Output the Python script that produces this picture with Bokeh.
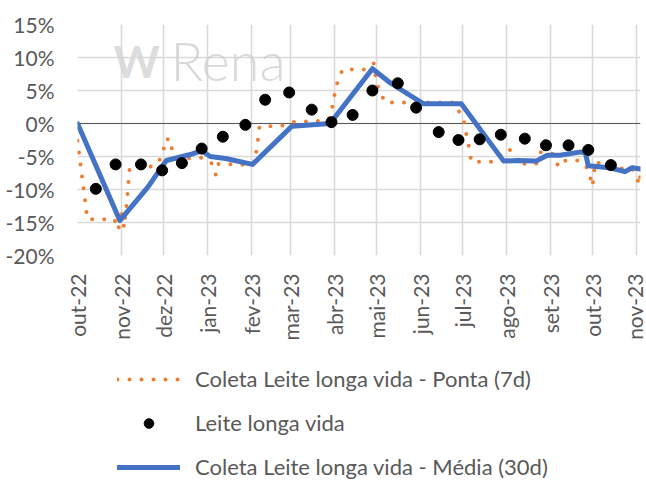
import numpy as np
import pandas as pd
from bokeh.plotting import figure
from bokeh.layouts import column
from bokeh.models import (FixedTicker, NumeralTickFormatter, Legend, LegendItem,
                          Span, Label, Range1d)
from bokeh.embed import file_html
from bokeh.resources import INLINE

# ---------------- data ----------------
month_ticks = ["2022-10-01", "2022-11-01", "2022-12-01", "2023-01-01", "2023-02-01",
               "2023-03-01", "2023-04-01", "2023-05-01", "2023-06-01", "2023-07-01",
               "2023-08-01", "2023-09-01", "2023-10-01", "2023-11-01"]
month_labels = ["out-22", "nov-22", "dez-22", "jan-23", "fev-23", "mar-23", "abr-23",
                "mai-23", "jun-23", "jul-23", "ago-23", "set-23", "out-23", "nov-23"]
y_ticks = [-0.20, -0.15, -0.10, -0.05, 0.0, 0.05, 0.10, 0.15]
x_start = "2022-10-01"
x_end = "2023-11-04"

# Coleta Leite longa vida - Ponta (7d), in %
ponta_dates = ["2022-10-01", "2022-10-08", "2022-10-27", "2022-10-30", "2022-11-01",
               "2022-11-03", "2022-11-05", "2022-11-07", "2022-11-24", "2022-11-28",
               "2022-12-01", "2022-12-02", "2022-12-06", "2022-12-07", "2022-12-10",
               "2022-12-28", "2023-01-03", "2023-01-05", "2023-01-07", "2023-01-09",
               "2023-02-02", "2023-02-05", "2023-02-07", "2023-02-23", "2023-03-04",
               "2023-03-20", "2023-03-28", "2023-03-30", "2023-04-02", "2023-04-04",
               "2023-04-07", "2023-04-24", "2023-04-29", "2023-05-01", "2023-05-04",
               "2023-05-07", "2023-06-24", "2023-07-01", "2023-07-03", "2023-07-04",
               "2023-07-06", "2023-07-07", "2023-07-24", "2023-08-03", "2023-08-05",
               "2023-08-06", "2023-08-13", "2023-08-22", "2023-08-30", "2023-08-31",
               "2023-09-02", "2023-09-07", "2023-09-12", "2023-09-21", "2023-09-26",
               "2023-09-29", "2023-10-01", "2023-10-02", "2023-10-03", "2023-10-11",
               "2023-10-21", "2023-10-29", "2023-11-01", "2023-11-03", "2023-11-04"]
ponta_values = [-2.6, -14.5, -14.5, -16.1, -12.9,
                -15.8, -11.9, -6.6, -6.5, -5.6,
                -4.1, -2.4, -2.4, -4.1, -5.3,
                -5.2, -5.8, -6.3, -7.8, -6.1,
                -6.3, -4.0, -0.5, -0.3, 0.25,
                0.35, 0.65, 1.9, 5.3, 6.8,
                8.2, 8.2, 9.1, 6.1, 4.5,
                3.2, 3.2, 1.0, -0.6, -2.4,
                -4.0, -5.8, -5.8, -3.9, -4.3,
                -5.8, -6.1, -6.1, -1.9, -3.0,
                -4.4, -6.6, -5.6, -5.6, -6.3,
                -7.8, -9.5, -7.5, -5.8, -6.5,
                -6.8, -6.8, -7.8, -9.3, -7.7]

# Leite longa vida, in %
leite_dates = ["2022-10-14", "2022-10-28", "2022-11-15", "2022-11-30", "2022-12-14",
               "2022-12-28", "2023-01-12", "2023-01-28", "2023-02-11", "2023-02-28",
               "2023-03-16", "2023-03-30", "2023-04-14", "2023-04-28", "2023-05-16",
               "2023-05-29", "2023-06-14", "2023-06-28", "2023-07-13", "2023-07-28",
               "2023-08-14", "2023-08-29", "2023-09-14", "2023-09-28", "2023-10-14"]
leite_values = [-9.9, -6.2, -6.2, -7.1, -6.0,
                -3.8, -2.0, -0.2, 3.6, 4.7,
                2.1, 0.2, 1.3, 5.0, 6.1,
                2.4, -1.3, -2.5, -2.4, -1.7,
                -2.3, -3.3, -3.3, -4.0, -6.3]

# Coleta Leite longa vida - Média (30d), in %
media_dates = ["2022-10-01", "2022-10-31", "2022-11-20", "2022-11-30", "2022-12-03",
               "2022-12-20", "2022-12-28", "2023-01-03", "2023-01-14", "2023-02-02",
               "2023-03-02", "2023-03-29", "2023-04-28", "2023-05-11", "2023-06-03",
               "2023-06-30", "2023-07-30", "2023-08-09", "2023-08-22", "2023-08-30",
               "2023-09-08", "2023-09-23", "2023-09-26", "2023-09-28", "2023-10-13",
               "2023-10-24", "2023-10-29", "2023-11-04"]
media_values = [0.0, -14.7, -9.6, -6.5, -5.6,
                -4.7, -4.1, -5.0, -5.3, -6.2,
                -0.4, 0.0, 8.3, 6.1, 3.0,
                3.0, -5.7, -5.6, -5.7, -4.8,
                -4.8, -4.3, -4.5, -6.4, -6.7,
                -7.3, -6.7, -6.9]

series_names = ["Coleta Leite longa vida - Ponta (7d)", "Leite longa vida",
                "Coleta Leite longa vida - Média (30d)"]


def to_ms(dates):
    return [int(pd.Timestamp(d).timestamp() * 1000) for d in dates]


def to_frac(vals):
    return (np.array(vals) / 100.0).tolist()


TEXT = "#595959"
FONT = "Lato"
FS = "21px"
ORANGE = "#ED7D31"
BLUE = "#4472C4"

tick_ms = to_ms(month_ticks)
x_lo, x_hi = to_ms([x_start])[0], to_ms([x_end])[0]


def add_series(fig):
    r_p = fig.line(to_ms(ponta_dates), to_frac(ponta_values), line_color=ORANGE,
                   line_width=4, line_dash="0 12", line_cap="round", line_join="round")
    r_m = fig.line(to_ms(media_dates), to_frac(media_values), line_color=BLUE,
                   line_width=5, line_join="round", line_cap="round")
    r_l = fig.scatter(to_ms(leite_dates), to_frac(leite_values), size=11,
                      fill_color="black", line_color="black")
    return r_p, r_l, r_m


# ---------------- main chart ----------------
p = figure(width=646, height=343, x_axis_type="datetime",
           output_backend="svg", toolbar_location=None,
           x_range=Range1d(x_lo, x_hi), y_range=Range1d(-0.20, 0.15),
           min_border_left=77, min_border_right=6,
           min_border_top=24, min_border_bottom=88)
p.outline_line_color = None
p.background_fill_color = "white"
p.border_fill_color = "white"

p.xaxis.ticker = FixedTicker(ticks=tick_ms)
p.xaxis.major_label_overrides = {t: l for t, l in zip(tick_ms, month_labels)}
p.xaxis.major_label_orientation = np.pi / 2
p.yaxis.ticker = FixedTicker(ticks=y_ticks)
p.yaxis.formatter = NumeralTickFormatter(format="0%")
for ax in (p.xaxis[0], p.yaxis[0]):
    ax.axis_line_color = None
    ax.major_tick_line_color = None
    ax.minor_tick_line_color = None
    ax.major_label_text_font = FONT
    ax.major_label_text_font_size = FS
    ax.major_label_text_color = TEXT
p.xaxis.major_label_standoff = 12
p.yaxis.major_label_standoff = 17

p.xgrid.ticker = FixedTicker(ticks=tick_ms)
p.ygrid.ticker = FixedTicker(ticks=y_ticks)
for g in (p.xgrid[0], p.ygrid[0]):
    g.grid_line_color = "#d9d9d9"
    g.grid_line_width = 1.6

# watermark
p.add_layout(Label(x=36, y=195, x_units="screen", y_units="screen", text="W",
                   text_font=FONT, text_font_style="bold", text_font_size="44px",
                   text_color="#d6d6d6", text_alpha=0.85, text_baseline="alphabetic"))
p.add_layout(Label(x=93, y=195, x_units="screen", y_units="screen", text="Rena",
                   text_font="'Lato Light', Lato", text_font_size="54px",
                   text_color="#d0d0d0", text_alpha=0.8, text_baseline="alphabetic"))

p.add_layout(Span(location=0, dimension="width", line_color="#595959",
                  line_width=1.2, level="underlay"))

add_series(p)

# ---------------- legend panel ----------------
# the same series, drawn outside this panel's visible range, feed the legend
lg = figure(width=646, height=139, output_backend="svg", toolbar_location=None,
            x_range=Range1d(x_lo, x_hi), y_range=Range1d(10, 11),
            x_axis_location=None, y_axis_location=None,
            min_border_left=0, min_border_right=0, min_border_top=0,
            min_border_bottom=0)
lg.outline_line_color = None
lg.xgrid.visible = False
lg.ygrid.visible = False
lr_p, lr_l, lr_m = add_series(lg)

legend = Legend(items=[
    LegendItem(label=series_names[0], renderers=[lr_p]),
    LegendItem(label=series_names[1], renderers=[lr_l]),
    LegendItem(label=series_names[2], renderers=[lr_m]),
], location=(40, 2), orientation="vertical",
    background_fill_alpha=0, border_line_color=None, padding=0, margin=0,
    spacing=17, glyph_width=63, glyph_height=24, label_height=24,
    label_standoff=15, label_text_font=FONT, label_text_font_size="22px",
    label_text_color=TEXT)
lg.add_layout(legend)

layout = column(p, lg, spacing=0)
open("out.html", "w").write(file_html(layout, INLINE))
